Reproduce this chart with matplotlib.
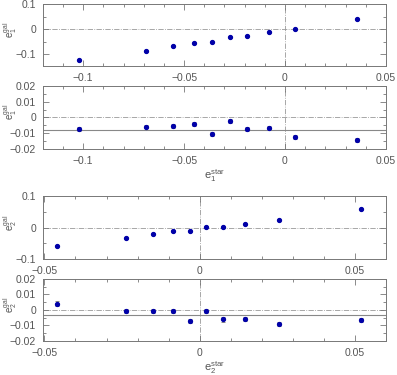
import matplotlib
matplotlib.use("Agg")
import matplotlib.pyplot as plt
from matplotlib.ticker import MultipleLocator, FuncFormatter

# e1: estrella vs galaxia
e1_star = [-0.1023, -0.069, -0.0554, -0.0451, -0.0361, -0.0273, -0.0186, -0.0081, 0.0049, 0.0358]
e1_gal = [-0.123, -0.087, -0.069, -0.056, -0.051, -0.031, -0.026, -0.012, 0.0, 0.041]
e1_res = [-0.0075, -0.0064, -0.0056, -0.0041, -0.0105, -0.0022, -0.0075, -0.0068, -0.0124, -0.0143]
e1_err = [0.0012, 0.0013, 0.0012, 0.0012, 0.0012, 0.0012, 0.0013, 0.0013, 0.0012, 0.0012]
e1_mean = -0.0081

# e2: estrella vs galaxia
e2_star = [-0.0459, -0.0237, -0.0151, -0.0085, -0.0032, 0.002, 0.0075, 0.0147, 0.0255, 0.052]
e2_gal = [-0.059, -0.0335, -0.0216, -0.012, -0.012, 0.001, 0.002, 0.0117, 0.0235, 0.06]
e2_res = [0.0041, -0.0007, -0.0004, -0.0004, -0.0071, -0.0009, -0.0061, -0.0061, -0.0091, -0.0067]
e2_err = [0.0015, 0.0015, 0.0013, 0.0013, 0.0014, 0.0014, 0.0014, 0.0013, 0.0015, 0.0013]
e2_mean = -0.003

TXT = '#555555'
plt.rcParams['font.family'] = ['Liberation Sans', 'DejaVu Sans']
plt.rcParams['mathtext.fontset'] = 'custom'
plt.rcParams['mathtext.rm'] = 'Liberation Sans'
plt.rcParams['mathtext.it'] = 'Liberation Sans'
plt.rcParams['font.size'] = 7.5
plt.rcParams['text.color'] = TXT
plt.rcParams['axes.labelcolor'] = TXT
plt.rcParams['xtick.color'] = '#777777'
plt.rcParams['ytick.color'] = '#777777'
plt.rcParams['xtick.labelcolor'] = TXT
plt.rcParams['ytick.labelcolor'] = TXT
plt.rcParams['axes.edgecolor'] = '#777777'


def fmt(v, pos):
    s = ('%g' % round(v, 4))
    return s.replace('-', '\u2212')


def estilo(ax, xlim, ylim, xmaj, xmin, ymaj, ymin):
    ax.set_xlim(*xlim)
    ax.set_ylim(*ylim)
    ax.xaxis.set_major_locator(MultipleLocator(xmaj))
    ax.xaxis.set_minor_locator(MultipleLocator(xmin))
    ax.yaxis.set_major_locator(MultipleLocator(ymaj))
    ax.yaxis.set_minor_locator(MultipleLocator(ymin))
    ax.xaxis.set_major_formatter(FuncFormatter(fmt))
    ax.yaxis.set_major_formatter(FuncFormatter(fmt))
    ax.tick_params(which='both', direction='in', top=True, right=True, width=0.6)
    ax.tick_params(which='major', length=4, pad=5)
    ax.tick_params(which='minor', length=2)
    for s in ax.spines.values():
        s.set_linewidth(0.7)
    ax.axhline(0, color='#999999', lw=0.6, ls='-.', zorder=1)
    ax.axvline(0, color='#999999', lw=0.6, ls='-.', zorder=1)


def etiqueta_y(ax, texto):
    ax.set_ylabel(texto, fontsize=7)
    ax.yaxis.set_label_coords(-0.07, 0.58)


fig = plt.figure(figsize=(3.97, 3.75), dpi=100)

ax1 = fig.add_axes([0.108, 0.824, 0.864, 0.165])
ax2 = fig.add_axes([0.108, 0.603, 0.864, 0.168])
ax3 = fig.add_axes([0.108, 0.309, 0.864, 0.168])
ax4 = fig.add_axes([0.108, 0.091, 0.864, 0.165])

mk = dict(color='#0000a8', marker='o', ms=2.8, ls='none', zorder=3)
eb = dict(ecolor='#888888', elinewidth=0.7, capsize=1.5, capthick=0.7)

# Panel 1
estilo(ax1, (-0.12, 0.05), (-0.148, 0.1), 0.05, 0.01, 0.1, 0.05)
ax1.plot(e1_star, e1_gal, **mk)
etiqueta_y(ax1, r'$\mathrm{e}_1^{\mathrm{gal}}$')

# Panel 2
estilo(ax2, (-0.12, 0.05), (-0.02, 0.02), 0.05, 0.01, 0.01, 0.005)
ax2.axhline(e1_mean, color='#888888', lw=0.8, zorder=1)
ax2.errorbar(e1_star, e1_res, yerr=e1_err, **eb, **mk)
etiqueta_y(ax2, r'$\mathrm{e}_1^{\mathrm{gal}}$')
ax2.set_xlabel(r'$\mathrm{e}_1^{\mathrm{star}}$', fontsize=8, labelpad=1)

# Panel 3
estilo(ax3, (-0.0505, 0.06), (-0.1, 0.1), 0.05, 0.01, 0.1, 0.05)
ax3.plot(e2_star, e2_gal, **mk)
etiqueta_y(ax3, r'$\mathrm{e}_2^{\mathrm{gal}}$')

# Panel 4
estilo(ax4, (-0.0505, 0.06), (-0.02, 0.02), 0.05, 0.01, 0.01, 0.005)
ax4.axhline(e2_mean, color='#888888', lw=0.8, zorder=1)
ax4.errorbar(e2_star, e2_res, yerr=e2_err, **eb, **mk)
etiqueta_y(ax4, r'$\mathrm{e}_2^{\mathrm{gal}}$')
ax4.set_xlabel(r'$\mathrm{e}_2^{\mathrm{star}}$', fontsize=8, labelpad=1)

fig.savefig('out.png', dpi=100)
